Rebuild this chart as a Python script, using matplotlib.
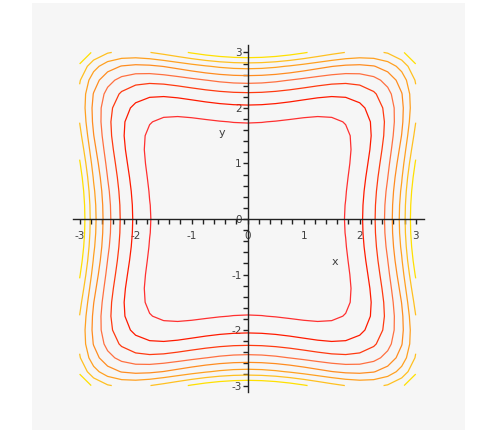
"""Contour plot of x^4 + y^4 - x^2*y^2 on [-3, 3] x [-3, 3], Maple style."""
import numpy as np
import matplotlib.pyplot as plt
from matplotlib.ticker import FixedLocator

# sampling grid (coarse, like Maple's default 25 x 25)
x_range = [-3.0, 3.0]
y_range = [-3.0, 3.0]
grid_n = 25

# contour levels and their colours, red (inner) -> yellow (outer)
levels = [9, 18, 27, 36, 45, 54, 63, 72]
colors = ["#ff3030", "#ff1a00", "#ff3a10", "#ff7040",
          "#ff8c20", "#ffa020", "#ffc020", "#ffe000"]

tick_values = [-3, -2, -1, 0, 1, 2, 3]
tick_labels = ["-3", "-2", "-1", "0", "1", "2", "3"]
minor_ticks = [i / 5 for i in range(-15, 16)]


def field(x, y):
    return x**4 + y**4 - x**2 * y**2


def main():
    xs = np.linspace(*x_range, grid_n)
    ys = np.linspace(*y_range, grid_n)
    X, Y = np.meshgrid(xs, ys)
    Z = field(X, Y)

    plt.rcParams["hatch.color"] = "#ececec"
    plt.rcParams["hatch.linewidth"] = 0.8

    fig = plt.figure(figsize=(4.8, 4.3), dpi=100)
    ax = fig.add_axes([32 / 480, 0, 433 / 480, 427 / 430])
    ax.set_facecolor("#f6f6f6")
    ax.patch.set_hatch("//////")

    ax.contour(X, Y, Z, levels=levels, colors=colors, linewidths=0.9)

    ax.set_xlim(-3.85, 3.88)
    ax.set_ylim(-3.80, 3.89)

    for side in ("top", "right"):
        ax.spines[side].set_visible(False)
    for side in ("left", "bottom"):
        ax.spines[side].set_position("zero")
        ax.spines[side].set_bounds(-3.12, 3.14)
        ax.spines[side].set_linewidth(1.0)
        ax.spines[side].set_color("#222222")

    ax.set_xticks(tick_values)
    ax.set_xticklabels(tick_labels)
    ax.set_yticks(tick_values)
    ax.set_yticklabels(tick_labels)
    ax.xaxis.set_minor_locator(FixedLocator(minor_ticks))
    ax.yaxis.set_minor_locator(FixedLocator(minor_ticks))
    ax.tick_params(which="both", direction="out", length=3.5, width=1.0,
                   color="#222222", labelsize=7.5, labelcolor="#404040")
    ax.tick_params(axis="x", which="major", pad=5)
    ax.tick_params(axis="y", which="major", pad=1)

    ax.text(1.56, -0.77, "x", fontsize=8, color="#404040",
            ha="center", va="center")
    ax.text(-0.46, 1.55, "y", fontsize=8, color="#404040",
            ha="center", va="center")

    fig.savefig("out.png", dpi=100)


if __name__ == "__main__":
    main()
